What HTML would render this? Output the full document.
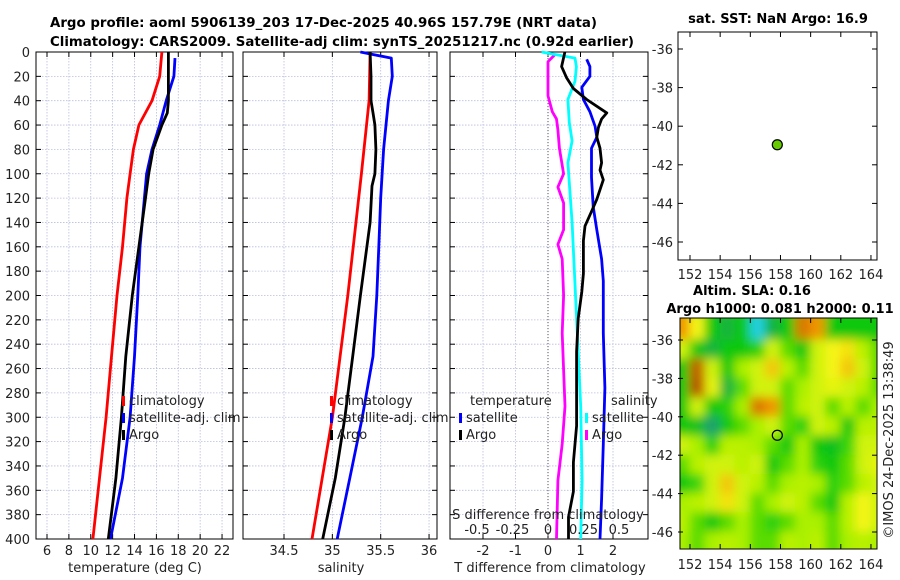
<!DOCTYPE html>
<html><head><meta charset="utf-8"><style>
html,body{margin:0;padding:0;background:#fff;}
svg{display:block;font-family:"DejaVu Sans","Liberation Sans",sans-serif;}
</style></head><body>
<svg id="chart" width="900" height="580" viewBox="0 0 900 580" xmlns="http://www.w3.org/2000/svg">
<defs>
<filter id="blur" filterUnits="userSpaceOnUse" x="640" y="280" width="260" height="300"><feGaussianBlur stdDeviation="5"/></filter>
<clipPath id="mapclip"><rect x="680" y="318" width="197" height="231"/></clipPath>
</defs>
<g id="root"></g>
</svg>
<script>
// ---- data ----
const depthTicks = [0,20,40,60,80,100,120,140,160,180,200,220,240,260,280,300,320,340,360,380,400];
const tempTicks = [6,8,10,12,14,16,18,20,22];
const salTicks = [34.5,35,35.5,36];
const tdiffTicks = [-2,-1,0,1,2];
const sdiffTicks = [-0.5,-0.25,0,0.25,0.5];
const sdiffLabels = ["-0.5","-0.25","0","0.25","0.5"];
const latTicks = [-36,-38,-40,-42,-44,-46];
const lonTicks = [152,154,156,158,160,162,164];

const climTDepth = [0,20,40,60,80,100,120,140,160,200,250,300,350,400];
const climT = [16.5,16.3,15.6,14.4,13.9,13.6,13.3,13.1,12.9,12.4,11.9,11.4,10.8,10.2];
const satTDepth = [5,20,40,60,80,100,120,140,160,200,250,300,350,400];
const satT = [17.7,17.6,16.9,16.3,15.6,15.1,14.9,14.7,14.5,14.3,14.0,13.6,12.9,11.8];
const argoTDepth = [0,20,40,50,60,80,100,120,140,160,200,250,300,350,400];
const argoT = [17.1,17.1,17.1,17.0,16.5,15.7,15.3,15.0,14.7,14.4,13.8,13.2,12.8,12.3,11.6];

const climSDepth = [0,40,100,200,300,400];
const climS = [35.39,35.38,35.30,35.16,35.0,34.79];
const satSDepth = [0,5,20,40,80,120,160,200,250,300,350,400];
const satS = [35.29,35.61,35.62,35.58,35.53,35.50,35.48,35.46,35.42,35.31,35.18,35.05];
const argoSDepth = [0,20,40,50,60,80,100,110,140,200,250,300,350,400];
const argoS = [35.39,35.40,35.40,35.42,35.44,35.45,35.44,35.41,35.39,35.29,35.21,35.13,35.03,34.90];

const argoTdDepth = [0,12,21,30,39,50,55,62,70,79,91,97,105,121,131,143,155,182,197,219,246,307,337,361,382,400];
const argoTd = [0.52,0.42,0.57,0.78,1.19,1.81,1.65,1.55,1.50,1.60,1.65,1.60,1.70,1.50,1.34,1.14,1.09,1.09,1.04,0.93,0.88,0.88,0.78,0.78,0.63,0.63];
const satTdDepth = [6,12,20,29,39,49,61,70,79,103,127,146,170,188,231,276,322,367,400];
const satTd = [1.19,1.29,1.29,1.04,1.09,1.29,1.45,1.50,1.34,1.34,1.39,1.50,1.65,1.70,1.70,1.75,1.70,1.65,1.60];
const satSdDepth = [0,5,12,24,39,58,73,91,140,215,291,352,400];
const satSd = [-0.045,0.19,0.20,0.19,0.14,0.15,0.17,0.14,0.17,0.20,0.23,0.24,0.23];
const argoSdDepth = [2,8,36,49,55,64,79,100,111,124,146,158,170,200,231,291,322,352,400];
const argoSd = [0.05,0.0,0.0,0.03,0.06,0.07,0.08,0.11,0.07,0.11,0.11,0.07,0.10,0.11,0.10,0.12,0.10,0.07,0.06];

const argoLon = 157.79, argoLat = -40.96;
const slaLons = [151.5,152.5,153.5,154.5,155.5,156.5,157.5,158.5,159.5,160.5,161.5,162.5,163.5,164.5];
const slaLats = [-35.5,-36.5,-37.5,-38.5,-39.5,-40.5,-41.5,-42.5,-43.5,-44.5,-45.5,-46.5];
const sla = [
[0.3,0.2,0.0,-0.05,0.0,-0.3,-0.05,0.0,0.35,0.3,0.0,0.0,0.0,0.0],
[0.15,0.0,-0.05,0.0,0.0,0.02,0.15,0.05,0.0,0.15,0.2,0.22,0.12,0.05],
[0.0,0.4,0.15,0.0,0.1,0.15,0.25,0.12,0.05,0.15,0.2,0.25,0.15,0.05],
[0.0,0.42,0.18,-0.05,0.05,0.15,0.15,0.05,0.1,0.15,0.18,0.15,0.12,0.05],
[0.0,0.15,0.0,0.02,0.1,0.35,0.3,0.05,0.12,0.15,0.05,0.12,0.05,0.1],
[0.0,-0.02,-0.1,0.0,0.05,0.1,0.15,0.05,0.02,0.15,0.12,0.0,0.12,0.12],
[0.15,0.1,0.02,0.12,0.12,0.1,0.05,0.0,0.1,0.0,-0.02,0.03,0.15,0.15],
[0.05,0.12,0.15,0.15,0.12,0.15,0.0,0.05,0.1,0.02,0.0,0.05,0.15,0.18],
[0.0,0.03,0.15,0.25,0.15,0.12,0.05,0.1,0.12,0.1,0.02,0.05,0.12,0.15],
[0.1,0.12,0.15,0.22,0.15,0.05,0.1,0.15,0.12,0.05,0.0,0.12,0.2,0.15],
[0.12,0.05,0.0,0.05,0.1,0.05,0.02,0.05,0.1,0.1,0.05,0.12,0.2,0.15],
[0.1,0.05,0.1,0.12,0.1,0.05,0.05,0.12,0.1,0.12,0.05,0.1,0.12,0.1]
];

// ---- helpers ----
const NS = "http://www.w3.org/2000/svg";
const root = document.getElementById('root');
function el(tag, attrs, parent, text){
  const e = document.createElementNS(NS, tag);
  for (const k in attrs) e.setAttribute(k, attrs[k]);
  if (text !== undefined) e.textContent = text;
  (parent||root).appendChild(e);
  return e;
}
const yD = d => 52 + d*1.2175;
const PY0 = 52, PY1 = 539;

function panel(name, x0, x1, xTicks, xScale, xLabels, showY){
  const g = el('g', {}, root);
  
  
  xTicks.forEach(t => el('line',{x1:xScale(t),x2:xScale(t),y1:PY0,y2:PY1,stroke:'#b8bde0','stroke-width':0.8,'stroke-dasharray':'1.5,1.5'},g));
  depthTicks.forEach(d => el('line',{x1:x0,x2:x1,y1:yD(d),y2:yD(d),stroke:'#b8bde0','stroke-width':0.8,'stroke-dasharray':'1.5,1.5'},g));
  depthTicks.forEach(d => {
    el('line',{x1:x0,x2:x0+5,y1:yD(d),y2:yD(d),stroke:'#000'},g);
    el('line',{x1:x1-5,x2:x1,y1:yD(d),y2:yD(d),stroke:'#000'},g);
    if (showY){
      const t = el('text',{x:x0-6,y:yD(d)+5,'font-size':13,'text-anchor':'end',fill:'#222'},g,String(d));
      
      
    }
  });
  xTicks.forEach((t,i) => {
    el('line',{x1:xScale(t),x2:xScale(t),y1:PY1,y2:PY1-5,stroke:'#000'},g);
    el('line',{x1:xScale(t),x2:xScale(t),y1:PY0,y2:PY0+5,stroke:'#000'},g);
    const lb = el('text',{x:xScale(t),y:555,'font-size':13,'text-anchor':'middle',fill:'#222'},g,xLabels[i]);
    
    
  });
  el('rect',{x:x0,y:PY0,width:x1-x0,height:PY1-PY0,fill:'none',stroke:'#000','stroke-width':1},g);
  return g;
}
function series(g, name, depths, vals, xs, color){
  const pts = depths.map((d,i)=> xs(vals[i]).toFixed(1)+','+yD(d).toFixed(1)).join(' ');
  const p = el('polyline',{points:pts,fill:'none',stroke:color,'stroke-width':2.8,'stroke-linejoin':'round'},g);
  
  
}
function legendEntry(g, x, y, color, label, name){
  const grp = el('g',{},g);
  
  
  if (color) el('rect',{x:x,y:y-9,width:3,height:10,fill:color},grp);
  el('text',{x:x+7,y:y,'font-size':13,fill:'#222'},grp,label);
}

// ---- titles ----
const t1 = el('text',{x:50,y:27,'font-size':13,'font-weight':'bold',textLength:547,lengthAdjust:'spacingAndGlyphs'},root,'Argo profile: aoml 5906139_203 17-Dec-2025 40.96S 157.79E (NRT data)');


const t2 = el('text',{x:50,y:46,'font-size':13,'font-weight':'bold',textLength:584,lengthAdjust:'spacingAndGlyphs'},root,'Climatology: CARS2009. Satellite-adj clim: synTS_20251217.nc (0.92d earlier)');



// ---- panel 1: temperature ----
const xT = t => 47 + (t-6)*10.94;
const p1 = panel('temperature-panel', 36, 233, tempTicks, xT, tempTicks.map(String), true);
series(p1,'climatology-temperature-line',climTDepth,climT,xT,'#ff0000');
series(p1,'satellite-temperature-line',satTDepth,satT,xT,'#0000ff');
series(p1,'argo-temperature-line',argoTDepth,argoT,xT,'#000000');
legendEntry(p1,122,405,'#ff0000','climatology','legend-climatology');
legendEntry(p1,122,422,'#0000ff','satellite-adj. clim','legend-satellite-adj');
legendEntry(p1,122,439,'#000000','Argo','legend-argo');
const xl1 = el('text',{x:135,y:572,'font-size':13,'text-anchor':'middle',fill:'#222'},p1,'temperature (deg C)');



// ---- panel 2: salinity ----
const xS = s => 284 + (s-34.5)*96.7;
const p2 = panel('salinity-panel', 243, 437, salTicks, xS, salTicks.map(String), false);
series(p2,'climatology-salinity-line',climSDepth,climS,xS,'#ff0000');
series(p2,'satellite-salinity-line',satSDepth,satS,xS,'#0000ff');
series(p2,'argo-salinity-line',argoSDepth,argoS,xS,'#000000');
legendEntry(p2,330,405,'#ff0000','climatology','legend-climatology');
legendEntry(p2,330,422,'#0000ff','satellite-adj. clim','legend-satellite-adj');
legendEntry(p2,330,439,'#000000','Argo','legend-argo');
const xl2 = el('text',{x:341,y:572,'font-size':13,'text-anchor':'middle',fill:'#222'},p2,'salinity');



// ---- panel 3: differences ----
const xTd = d => 548 + d*32.5;
const xSd = d => 548 + d*142;
const p3 = panel('difference-panel', 450, 648, tdiffTicks, xTd, tdiffTicks.map(String), false);
el('line',{x1:xTd(0),x2:xTd(0),y1:PY0,y2:PY1,stroke:'#555','stroke-width':1,'stroke-dasharray':'1,2'},p3);
series(p3,'argo-salinity-diff-line',argoSdDepth,argoSd,xSd,'#ff00ff');
series(p3,'satellite-salinity-diff-line',satSdDepth,satSd,xSd,'#00ffff');
series(p3,'satellite-temperature-diff-line',satTdDepth,satTd,xTd,'#0000ff');
series(p3,'argo-temperature-diff-line',argoTdDepth,argoTd,xTd,'#000000');
legendEntry(p3,463,405,null,'temperature','legend-temperature-header');
legendEntry(p3,459,422,'#0000ff','satellite','legend-temp-satellite');
legendEntry(p3,459,439,'#000000','Argo','legend-temp-argo');
legendEntry(p3,604,405,null,'salinity','legend-salinity-header');
legendEntry(p3,585,422,'#00ffff','satellite','legend-sal-satellite');
legendEntry(p3,585,439,'#ff00ff','Argo','legend-sal-argo');
const sdt = el('text',{x:548,y:519,'font-size':13,'text-anchor':'middle',fill:'#222'},p3,'S difference from climatology');


sdiffTicks.forEach((s,i)=>{
  const l = el('text',{x:xSd(s),y:534,'font-size':13,'text-anchor':'middle',fill:'#222'},p3,sdiffLabels[i]);
  
  
});
const xl3 = el('text',{x:550,y:572,'font-size':13,'text-anchor':'middle',fill:'#222'},p3,'T difference from climatology');



// ---- maps ----
const xLon = l => 690 + (l-152)*15.08;
function mapAxes(g, top, bottom, yLat, lonLabelY){
  latTicks.forEach(la=>{
    el('line',{x1:678,x2:683,y1:yLat(la),y2:yLat(la),stroke:'#000'},g);
    el('line',{x1:872,x2:877,y1:yLat(la),y2:yLat(la),stroke:'#000'},g);
    const t = el('text',{x:673,y:yLat(la)+5,'font-size':13,'text-anchor':'end',fill:'#222'},g,String(la));
    
    
  });
  lonTicks.forEach(lo=>{
    el('line',{x1:xLon(lo),x2:xLon(lo),y1:bottom,y2:bottom-5,stroke:'#000'},g);
    el('line',{x1:xLon(lo),x2:xLon(lo),y1:top,y2:top+5,stroke:'#000'},g);
    const t = el('text',{x:xLon(lo),y:lonLabelY,'font-size':13,'text-anchor':'middle',fill:'#222'},g,String(lo));
    
    
  });
}
const yLat1 = la => 49 + (-36-la)*19.3;
const m1 = el('g',{},root);


el('rect',{x:678,y:32,width:199,height:228,fill:'#fff',stroke:'#000'},m1);
mapAxes(m1,32,260,yLat1,279);
const mt1 = el('text',{x:778,y:23,'font-size':13,'font-weight':'bold','text-anchor':'middle'},m1,'sat. SST: NaN Argo: 16.9');


const pt1 = el('circle',{cx:xLon(argoLon),cy:yLat1(argoLat),r:5,fill:'#66cc00',stroke:'#000','stroke-width':1.2},m1);



const yLat2 = la => 340 + (-36-la)*19.2;
const m2 = el('g',{},root);


function slaColor(v){
  const stops = [[-0.3,[32,208,224]],[-0.1,[30,160,110]],[0,[10,200,10]],[0.1,[170,240,0]],[0.2,[245,245,20]],[0.3,[240,150,0]],[0.45,[170,60,0]]];
  if (v<=stops[0][0]) return 'rgb('+stops[0][1]+')';
  for (let i=1;i<stops.length;i++){
    if (v<=stops[i][0]){
      const f=(v-stops[i-1][0])/(stops[i][0]-stops[i-1][0]);
      const c=stops[i-1][1].map((a,k)=>Math.round(a+(stops[i][1][k]-a)*f));
      return 'rgb('+c.join(',')+')';
    }
  }
  return 'rgb('+stops[stops.length-1][1]+')';
}
const clipG = el('g',{'clip-path':'url(#mapclip)'},m2);
el('rect',{x:680,y:318,width:197,height:231,fill:'#60d020'},clipG);
const heat = el('g',{filter:'url(#blur)'},clipG);
const nR = sla.length, nC = sla[0].length;
sla.forEach((row,j)=>row.forEach((v,i)=>{
  let x0 = xLon(slaLons[i]-0.5), x1 = xLon(slaLons[i]+0.5);
  let y0 = yLat2(slaLats[j]+0.5), y1 = yLat2(slaLats[j]-0.5);
  if (i===0) x0 -= 8;
  if (i===nC-1) x1 += 8;
  if (j===0) y0 -= 8;
  if (j===nR-1) y1 += 8;
  const c = el('rect',{x:x0-0.5,y:y0-0.5,width:x1-x0+1,height:y1-y0+1,fill:slaColor(v)},heat);
  
  
}));
el('rect',{x:680,y:318,width:197,height:231,fill:'none',stroke:'#000'},m2);
mapAxes(m2,318,549,yLat2,569);
const mt2 = el('text',{x:752,y:295,'font-size':13,'font-weight':'bold','text-anchor':'middle'},m2,'Altim. SLA: 0.16');


const mt3 = el('text',{x:780,y:313,'font-size':13,'font-weight':'bold','text-anchor':'middle'},m2,'Argo h1000: 0.081 h2000: 0.11');


const pt2 = el('circle',{cx:xLon(argoLon),cy:yLat2(argoLat),r:5,fill:'none',stroke:'#000','stroke-width':1.2},m2);



const cr = el('text',{x:0,y:0,'font-size':13,'text-anchor':'middle',fill:'#222',transform:'translate(893,440) rotate(-90)'},root,'©IMOS 24-Dec-2025 13:38:49');


</script>
</body></html>
